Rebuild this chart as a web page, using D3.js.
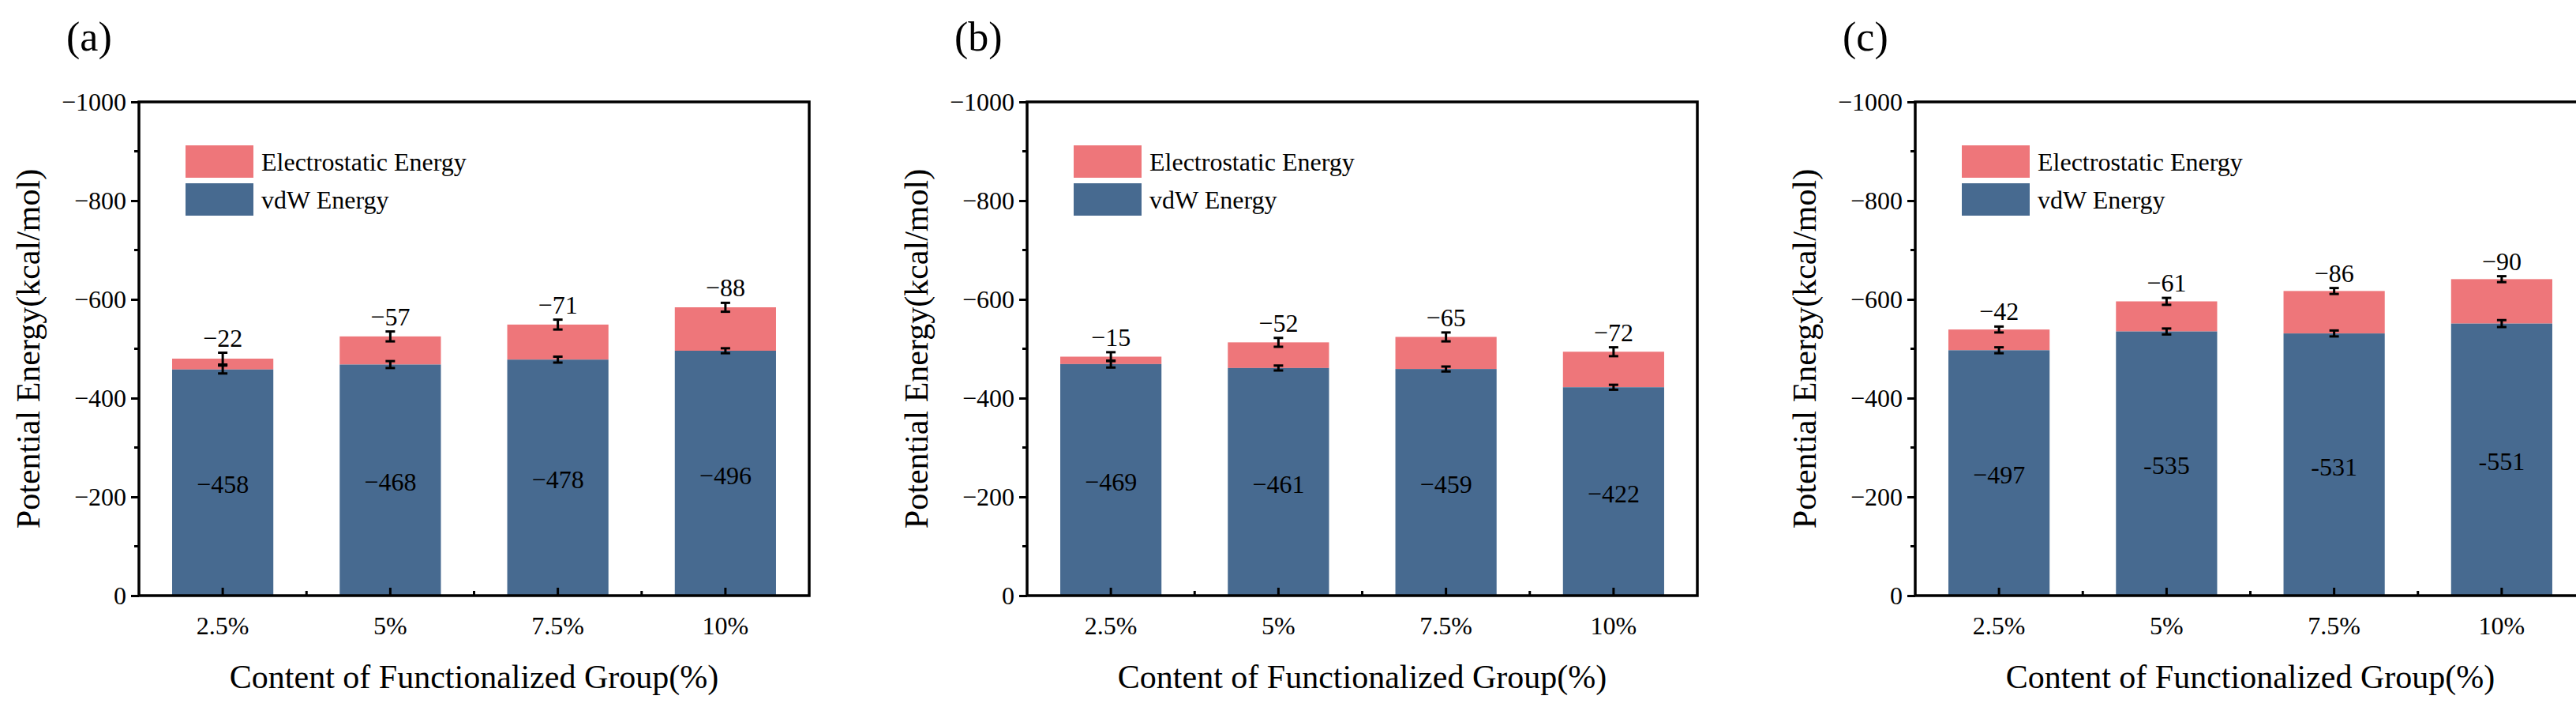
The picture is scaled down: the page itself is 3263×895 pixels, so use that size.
<!DOCTYPE html>
<html><head><meta charset="utf-8">
<script src="https://cdn.jsdelivr.net/npm/d3@7"></script>
<style>
body{margin:0;background:#fff}
text{font-family:"Liberation Serif","DejaVu Serif",serif;fill:#000}
</style></head>
<body><svg id="chart" width="3263" height="895"></svg>
<script>
// categories and tick labels
var categories = ['2.5%', '5%', '7.5%', '10%'];
var panelNames = ['(a)', '(b)', '(c)'];
var yTicks = [0, 200, 400, 600, 800, 1000];

// vdW energy (magnitude, kcal/mol) per panel
var vdwA = [458, 468, 478, 496];
var vdwB = [469, 461, 459, 422];
var vdwC = [497, 535, 531, 551];
// electrostatic energy per panel
var elecA = [22, 57, 71, 88];
var elecB = [15, 52, 65, 72];
var elecC = [42, 61, 86, 90];
// error bar half-widths (top of stack / top of vdW)
var errTotA = [12, 10, 10, 9];
var errTotB = [9, 9, 9, 9];
var errTotC = [6, 7, 6, 6];
var errVdwA = [8, 7, 6, 5];
var errVdwB = [7, 5, 5, 5];
var errVdwC = [6, 6, 6, 7];
// labels as printed
var vdwLabelsC = ['\u2212497', '-535', '-531', '-551'];

var panels = [
  {name: panelNames[0], vdw: vdwA, elec: elecA, eT: errTotA, eV: errVdwA},
  {name: panelNames[1], vdw: vdwB, elec: elecB, eT: errTotB, eV: errVdwB},
  {name: panelNames[2], vdw: vdwC, elec: elecC, eT: errTotC, eV: errVdwC, vLab: vdwLabelsC}
];

var svg = d3.select('#chart');
var W = 849, plotTop = 129, plotBottom = 754;
var RED = '#EE767A', BLUE = '#476A90';

panels.forEach(function (p, i) {
  var left = 176 + i * 1125;
  var g = svg.append('g').attr('transform', 'translate(' + left + ',0)');

  var x = d3.scaleBand().domain(categories).range([0, W]).paddingInner(0.396).paddingOuter(0.198);
  var y = d3.scaleLinear().domain([0, 1000]).range([plotBottom, plotTop]);

  // bars
  categories.forEach(function (c, k) {
    var tot = p.vdw[k] + p.elec[k];
    g.append('rect').attr('x', x(c)).attr('width', x.bandwidth())
      .attr('y', y(tot)).attr('height', y(p.vdw[k]) - y(tot)).attr('fill', RED);
    g.append('rect').attr('x', x(c)).attr('width', x.bandwidth())
      .attr('y', y(p.vdw[k])).attr('height', plotBottom - y(p.vdw[k])).attr('fill', BLUE);

    var cx = x(c) + x.bandwidth() / 2;
    [[tot, p.eT[k]], [p.vdw[k], p.eV[k]]].forEach(function (e) {
      var y1 = y(e[0] + e[1]), y2 = y(e[0] - e[1]);
      g.append('line').attr('x1', cx).attr('x2', cx).attr('y1', y1).attr('y2', y2)
        .attr('stroke', '#000').attr('stroke-width', 3);
      [y1, y2].forEach(function (yy) {
        g.append('line').attr('x1', cx - 6).attr('x2', cx + 6).attr('y1', yy).attr('y2', yy)
          .attr('stroke', '#000').attr('stroke-width', 3);
      });
    });

    g.append('text').attr('x', cx).attr('y', y(tot + p.eT[k]) - 8)
      .attr('text-anchor', 'middle').style('font-size', '32px')
      .text('\u2212' + p.elec[k]);
    g.append('text').attr('x', cx).attr('y', y(p.vdw[k] / 2 - 10))
      .attr('text-anchor', 'middle').attr('dominant-baseline', 'middle').style('font-size', '32px')
      .text(p.vLab ? p.vLab[k] : '\u2212' + p.vdw[k]);
  });

  // y axis ticks (outward), minor ticks
  var yAxis = d3.axisLeft(y).tickValues(yTicks).tickSize(10).tickPadding(6)
    .tickFormat(function (d) { return d === 0 ? '0' : '\u2212' + d; });
  var ya = g.append('g').call(yAxis);
  ya.select('.domain').remove();
  ya.selectAll('line').attr('stroke-width', 3);
  ya.selectAll('text').style('font-size', '32px').style('font-family', '"Liberation Serif",serif');
  d3.range(100, 1000, 200).forEach(function (v) {
    g.append('line').attr('x1', -6).attr('x2', 0).attr('y1', y(v)).attr('y2', y(v))
      .attr('stroke', '#000').attr('stroke-width', 3);
  });

  // x axis ticks (inward)
  var xa = g.append('g').attr('transform', 'translate(0,' + plotBottom + ')')
    .call(d3.axisBottom(x).tickSize(-10).tickPadding(26));
  xa.select('.domain').remove();
  xa.selectAll('line').attr('stroke-width', 3);
  xa.selectAll('text').style('font-size', '32px').style('font-family', '"Liberation Serif",serif');
  for (var k = 1; k < categories.length; k++) {
    var mx = x.step() * k;
    g.append('line').attr('x1', mx).attr('x2', mx).attr('y1', plotBottom).attr('y2', plotBottom - 6)
      .attr('stroke', '#000').attr('stroke-width', 3);
  }

  // frame
  g.append('rect').attr('x', 0).attr('y', plotTop).attr('width', W).attr('height', plotBottom - plotTop)
    .attr('fill', 'none').attr('stroke', '#000').attr('stroke-width', 3.5);

  // legend
  var legend = [['Electrostatic Energy', RED, 184], ['vdW Energy', BLUE, 232]];
  legend.forEach(function (l) {
    g.append('rect').attr('x', 59).attr('y', l[2]).attr('width', 86).attr('height', 41).attr('fill', l[1]);
    g.append('text').attr('x', 155).attr('y', l[2] + 32).style('font-size', '32px').text(l[0]);
  });

  // titles
  g.append('text').attr('x', W / 2).attr('y', 871).attr('text-anchor', 'middle')
    .style('font-size', '42px').text('Content of Functionalized Group(%)');
  g.append('text').attr('transform', 'translate(-136,' + ((plotTop + plotBottom) / 2) + ') rotate(-90)')
    .attr('text-anchor', 'middle').attr('dominant-baseline', 'middle')
    .style('font-size', '42px').text('Potential Energy(kcal/mol)');
  g.append('text').attr('x', -92).attr('y', 64).style('font-size', '52px').text(p.name);
});
</script></body></html>
